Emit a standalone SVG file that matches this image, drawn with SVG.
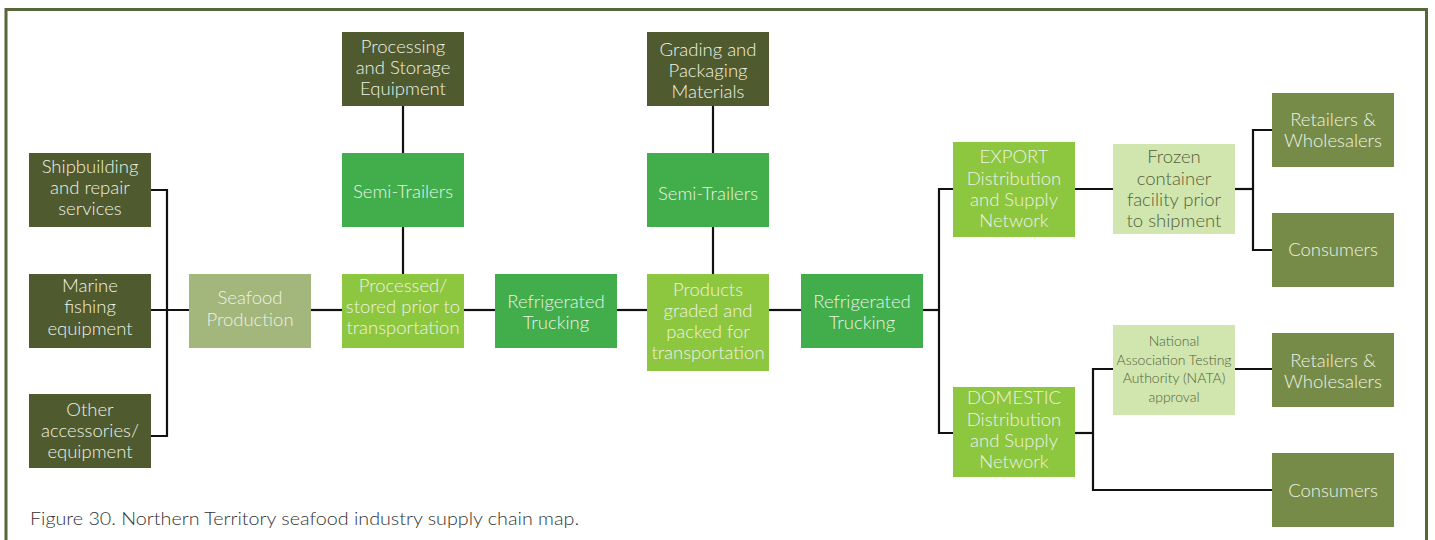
<svg xmlns="http://www.w3.org/2000/svg" width="1435" height="540" viewBox="0 0 1435 540">
  <style>
    .frame { fill: none; stroke: #566838; stroke-width: 3; }
    .wire { fill: none; stroke: #111111; stroke-width: 2.2; }
    .dark { fill: #4f5a2e; }
    .olive { fill: #768b48; }
    .sage { fill: #a3b67b; }
    .green { fill: #41ad4b; }
    .lime { fill: #8dc63f; }
    .pale { fill: #d0e6ae; }
    text { font-family: Lato, "Open Sans", "Liberation Sans", sans-serif; font-weight: 300; text-anchor: middle; }
    .lbl { font-size: 18.5px; fill: #eef2e6; }
    .lbl-d { font-size: 18.5px; fill: #55603a; }
    .lbl-s { font-size: 14px; fill: #55603a; }
    .caption { font-size: 17.5px; fill: #333333; text-anchor: start; }
  </style>

  <rect class="frame" x="6" y="9.5" width="1420.5" height="600"/>

  <!-- connectors -->
  <g id="connectors">
    <path class="wire" d="M151 190 H167 V436 H151"/>
    <path class="wire" d="M151 310 H189"/>
    <path class="wire" d="M311 310 H342"/>
    <path class="wire" d="M464 310 H495"/>
    <path class="wire" d="M617 310 H647"/>
    <path class="wire" d="M769 310 H801"/>
    <path class="wire" d="M403 106 V153"/>
    <path class="wire" d="M403 227 V274"/>
    <path class="wire" d="M713 106 V153"/>
    <path class="wire" d="M713 227 V274"/>
    <path class="wire" d="M923 310 H939"/>
    <path class="wire" d="M953 189 H939 V433 H953"/>
    <path class="wire" d="M1075 189 H1113"/>
    <path class="wire" d="M1235 189 H1253"/>
    <path class="wire" d="M1272 130 H1253 V250 H1272"/>
    <path class="wire" d="M1075 433 H1093"/>
    <path class="wire" d="M1113 369 H1093 V490 H1272"/>
    <path class="wire" d="M1235 369 H1272"/>
  </g>

  <!-- inputs -->
  <g id="shipbuilding">
    <rect class="dark" x="29" y="153" width="122" height="74"/>
    <text class="lbl" x="90"><tspan x="90" y="173">Shipbuilding</tspan><tspan x="90" y="194">and repair</tspan><tspan x="90" y="215">services</tspan></text>
  </g>
  <g id="marine-equipment">
    <rect class="dark" x="29" y="274" width="122" height="74"/>
    <text class="lbl" x="90"><tspan x="90" y="292">Marine</tspan><tspan x="90" y="313">fishing</tspan><tspan x="90" y="335">equipment</tspan></text>
  </g>
  <g id="other-accessories">
    <rect class="dark" x="29" y="394" width="122" height="74"/>
    <text class="lbl" x="90"><tspan x="90" y="416">Other</tspan><tspan x="90" y="437">accessories/</tspan><tspan x="90" y="458">equipment</tspan></text>
  </g>

  <!-- main chain -->
  <g id="seafood-production">
    <rect class="sage" x="189" y="274" width="122" height="74"/>
    <text class="lbl" x="250"><tspan x="250" y="304">Seafood</tspan><tspan x="250" y="326">Production</tspan></text>
  </g>
  <g id="processing-equipment">
    <rect class="dark" x="342" y="32" width="122" height="74"/>
    <text class="lbl" x="403"><tspan x="403" y="53">Processing</tspan><tspan x="403" y="74">and Storage</tspan><tspan x="403" y="95">Equipment</tspan></text>
  </g>
  <g id="semi-trailers-1">
    <rect class="green" x="342" y="153" width="122" height="74"/>
    <text class="lbl" x="403" y="198">Semi-Trailers</text>
  </g>
  <g id="processed-stored">
    <rect class="lime" x="342" y="274" width="122" height="74"/>
    <text class="lbl" x="403"><tspan x="403" y="292">Processed/</tspan><tspan x="403" y="313">stored prior to</tspan><tspan x="403" y="334">transportation</tspan></text>
  </g>
  <g id="refrigerated-trucking-1">
    <rect class="green" x="495" y="274" width="122" height="74"/>
    <text class="lbl" x="556"><tspan x="556" y="308">Refrigerated</tspan><tspan x="556" y="329">Trucking</tspan></text>
  </g>
  <g id="grading-materials">
    <rect class="dark" x="647" y="32" width="122" height="74"/>
    <text class="lbl" x="708"><tspan x="708" y="56">Grading and</tspan><tspan x="708" y="77">Packaging</tspan><tspan x="708" y="98">Materials</tspan></text>
  </g>
  <g id="semi-trailers-2">
    <rect class="green" x="647" y="153" width="122" height="74"/>
    <text class="lbl" x="708" y="200">Semi-Trailers</text>
  </g>
  <g id="products-graded">
    <rect class="lime" x="647" y="274" width="122" height="97"/>
    <text class="lbl" x="708"><tspan x="708" y="296">Products</tspan><tspan x="708" y="317">graded and</tspan><tspan x="708" y="338">packed for</tspan><tspan x="708" y="359">transportation</tspan></text>
  </g>
  <g id="refrigerated-trucking-2">
    <rect class="green" x="801" y="274" width="122" height="74"/>
    <text class="lbl" x="862"><tspan x="862" y="308">Refrigerated</tspan><tspan x="862" y="329">Trucking</tspan></text>
  </g>

  <!-- export branch -->
  <g id="export-network">
    <rect class="lime" x="953" y="142" width="122" height="95"/>
    <text class="lbl" x="1014"><tspan x="1014" y="163">EXPORT</tspan><tspan x="1014" y="185">Distribution</tspan><tspan x="1014" y="206">and Supply</tspan><tspan x="1014" y="227">Network</tspan></text>
  </g>
  <g id="frozen-container">
    <rect class="pale" x="1113" y="144" width="122" height="90"/>
    <text class="lbl-d" x="1174"><tspan x="1174" y="163">Frozen</tspan><tspan x="1174" y="185">container</tspan><tspan x="1174" y="206">facility prior</tspan><tspan x="1174" y="227">to shipment</tspan></text>
  </g>
  <g id="export-retailers">
    <rect class="olive" x="1272" y="93" width="122" height="74"/>
    <text class="lbl" x="1333"><tspan x="1333" y="126">Retailers &amp;</tspan><tspan x="1333" y="147">Wholesalers</tspan></text>
  </g>
  <g id="export-consumers">
    <rect class="olive" x="1272" y="213" width="122" height="74"/>
    <text class="lbl" x="1333" y="256">Consumers</text>
  </g>

  <!-- domestic branch -->
  <g id="domestic-network">
    <rect class="lime" x="953" y="387" width="122" height="90"/>
    <text class="lbl" x="1014"><tspan x="1014" y="404">DOMESTIC</tspan><tspan x="1014" y="426">Distribution</tspan><tspan x="1014" y="447">and Supply</tspan><tspan x="1014" y="468">Network</tspan></text>
  </g>
  <g id="nata-approval">
    <rect class="pale" x="1113" y="325" width="122" height="90"/>
    <text class="lbl-s" x="1174"><tspan x="1174" y="346">National</tspan><tspan x="1174" y="365">Association Testing</tspan><tspan x="1174" y="383">Authority (NATA)</tspan><tspan x="1174" y="402">approval</tspan></text>
  </g>
  <g id="domestic-retailers">
    <rect class="olive" x="1272" y="333" width="122" height="74"/>
    <text class="lbl" x="1333"><tspan x="1333" y="367">Retailers &amp;</tspan><tspan x="1333" y="388">Wholesalers</tspan></text>
  </g>
  <g id="domestic-consumers">
    <rect class="olive" x="1272" y="453" width="122" height="74"/>
    <text class="lbl" x="1333" y="497">Consumers</text>
  </g>

  <text class="caption" x="30" y="525" textLength="549" lengthAdjust="spacingAndGlyphs">Figure 30. Northern Territory seafood industry supply chain map.</text>
</svg>
